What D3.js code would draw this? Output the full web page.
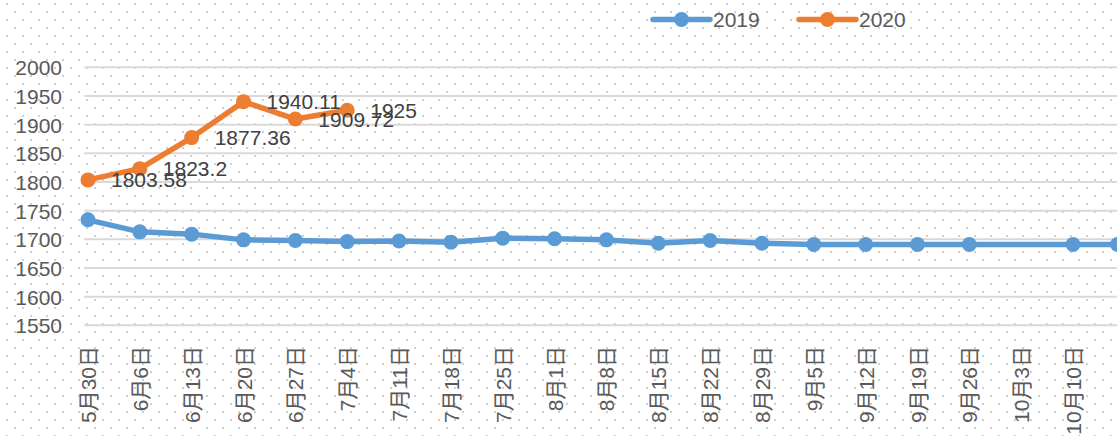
<!DOCTYPE html>
<html>
<head>
<meta charset="utf-8">
<script src="https://cdn.jsdelivr.net/npm/d3@7"></script>
<style>
  body { margin: 0; background: #fff; }
  text { font-family: "Liberation Sans", "Noto Sans CJK SC", sans-serif; }
</style>
</head>
<body>
<div id="chart"></div>
<script>
//data: weekly dates (2019 calendar), labels and values
const tickDates = ["2019-05-30", "2019-06-06", "2019-06-13", "2019-06-20", "2019-06-27",
  "2019-07-04", "2019-07-11", "2019-07-18", "2019-07-25", "2019-08-01", "2019-08-08",
  "2019-08-15", "2019-08-22", "2019-08-29", "2019-09-05", "2019-09-12", "2019-09-19",
  "2019-09-26", "2019-10-03", "2019-10-10"];
const tickLabels = ["5月30日", "6月6日", "6月13日", "6月20日", "6月27日", "7月4日",
  "7月11日", "7月18日", "7月25日", "8月1日", "8月8日", "8月15日", "8月22日", "8月29日",
  "9月5日", "9月12日", "9月19日", "9月26日", "10月3日", "10月10日"];

// 2019 series (no value for 10月3日, one more point after 10月10日)
const dates2019 = tickDates.concat(["2019-10-16"]);
const values2019 = [1734, 1713, 1709, 1699, 1698, 1696, 1697, 1695, 1702, 1701, 1699,
  1693, 1698, 1693, 1691, 1691, 1691, 1691, null, 1691, 1691];

const dates2020 = tickDates.slice(0, 6);
const values2020 = [1803.58, 1823.2, 1877.36, 1940.11, 1909.72, 1925];

const yTicks = [1550, 1600, 1650, 1700, 1750, 1800, 1850, 1900, 1950, 2000];
const seriesNames = ["2019", "2020"];
const seriesColors = ["#5b9bd5", "#ed7d31"];

//layout constants
const width = 1117,
    height = 436;
const parse = d3.utcParse("%Y-%m-%d");

let x = d3.scaleUtc()
    .domain([parse(tickDates[0]), parse(tickDates[tickDates.length - 1])])
    .range([88, 1073]);

let y = d3.scaleLinear()
    .domain([1550, 2000])
    .range([325.3, 67.3]);

let svg = d3.select("#chart").append("svg")
    .attr("width", width)
    .attr("height", height);

//dotted background pattern
let pattern = svg.append("defs").append("pattern")
    .attr("id", "dots")
    .attr("patternUnits", "userSpaceOnUse")
    .attr("width", 16)
    .attr("height", 16);
pattern.append("rect").attr("x", 6).attr("y", 3).attr("width", 2).attr("height", 2).attr("fill", "#cfcfcf");
pattern.append("rect").attr("x", 14).attr("y", 11).attr("width", 2).attr("height", 2).attr("fill", "#cfcfcf");

svg.append("rect")
    .attr("width", width)
    .attr("height", height)
    .attr("fill", "url(#dots)");

//plot starts half a day before the first date (date axis)
const plotLeft = x(d3.utcHour.offset(parse(tickDates[0]), -12));

//gridlines
svg.append("g")
  .selectAll("line")
    .data(yTicks)
  .enter().append("line")
    .attr("x1", plotLeft)
    .attr("x2", width)
    .attr("y1", d => y(d))
    .attr("y2", d => y(d))
    .attr("stroke", "#d9d9d9")
    .attr("stroke-width", 2);

//y axis
let yAxis = svg.append("g")
    .attr("transform", "translate(62,0)")
    .call(d3.axisLeft(y).tickValues(yTicks).tickSize(0).tickPadding(0).tickFormat(d3.format("d")));
yAxis.select(".domain").remove();
yAxis.selectAll("text")
    .attr("fill", "#595959")
    .style("font-size", "21px")
    .attr("dy", "0.36em");

//x axis, rotated labels
let xAxis = svg.append("g")
    .attr("transform", "translate(0,346)")
    .call(d3.axisBottom(x)
      .tickValues(tickDates.map(parse))
      .tickSize(0)
      .tickFormat((d, i) => tickLabels[i]));
xAxis.select(".domain").remove();
xAxis.selectAll("text")
    .attr("fill", "#595959")
    .style("font-size", "21px")
    .attr("y", 0)
    .attr("x", 0)
    .attr("dy", "0.36em")
    .attr("text-anchor", "end")
    .attr("transform", "rotate(-90)");

//series
let line = d3.line()
    .x(d => x(d.date))
    .y(d => y(d.value));

const series = [
  dates2019.map((d, i) => ({ date: parse(d), value: values2019[i] })).filter(d => d.value !== null),
  dates2020.map((d, i) => ({ date: parse(d), value: values2020[i] }))
];

series.forEach((data, s) => {
  let g = svg.append("g");
  g.append("path")
      .datum(data)
      .attr("d", line)
      .attr("fill", "none")
      .attr("stroke", seriesColors[s])
      .attr("stroke-width", 5.5)
      .attr("stroke-linejoin", "round")
      .attr("stroke-linecap", "round");
  g.selectAll("circle")
      .data(data)
    .enter().append("circle")
      .attr("cx", d => x(d.date))
      .attr("cy", d => y(d.value))
      .attr("r", 7.5)
      .attr("fill", seriesColors[s]);
});

//data labels for 2020
svg.append("g")
  .selectAll("text")
    .data(series[1])
  .enter().append("text")
    .attr("x", d => x(d.date) + 23)
    .attr("y", d => y(d.value))
    .attr("dy", "0.36em")
    .attr("fill", "#404040")
    .style("font-size", "21px")
    .text(d => d.value);

//legend
let legend = svg.selectAll(".legend")
    .data(seriesNames)
  .enter().append("g")
    .attr("class", "legend")
    .attr("transform", (d, i) => "translate(" + (653 + i * 146) + ",19.5)");

legend.append("line")
    .attr("x1", 0)
    .attr("x2", 57)
    .attr("stroke", (d, i) => seriesColors[i])
    .attr("stroke-width", 5.5)
    .attr("stroke-linecap", "round");

legend.append("circle")
    .attr("cx", 28.5)
    .attr("r", 7.5)
    .attr("fill", (d, i) => seriesColors[i]);

legend.append("text")
    .attr("x", 60)
    .attr("dy", "0.36em")
    .attr("fill", "#595959")
    .style("font-size", "21px")
    .text(d => d);
</script>
</body>
</html>
